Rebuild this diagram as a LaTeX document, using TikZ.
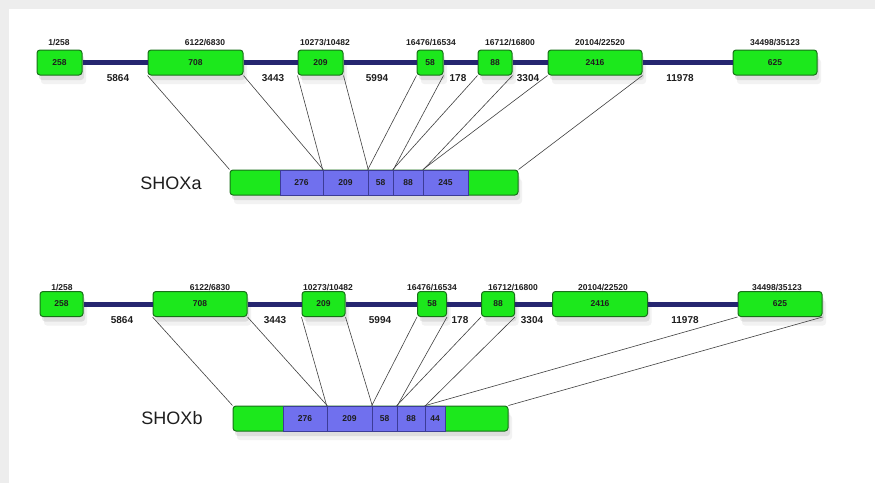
\documentclass[tikz,border=0pt]{standalone}
\usepackage{fontspec}
\setmainfont{Liberation Sans}
\usetikzlibrary{shapes,shadows}
\definecolor{exgreen}{RGB}{28,232,28}
\definecolor{exedge}{RGB}{24,112,24}
\definecolor{cdsblue}{RGB}{112,112,238}
\definecolor{cdsedge}{RGB}{60,60,150}
\definecolor{intronblue}{RGB}{38,38,112}
\definecolor{txtgray}{RGB}{30,30,30}
\tikzstyle{ex}=[rectangle,rounded corners=3pt,draw=exedge,fill=exgreen,line width=1pt,minimum height=25pt,inner sep=0pt,text=txtgray,font=\fontsize{8.5}{9}\selectfont\bfseries,drop shadow={shadow xshift=4pt,shadow yshift=-9pt,opacity=.10},drop shadow={shadow xshift=2pt,shadow yshift=-5pt,opacity=.18}]
\tikzstyle{cds}=[rectangle,draw=cdsedge,fill=cdsblue,line width=.6pt,minimum height=25pt,inner sep=0pt,text=txtgray,font=\fontsize{8.5}{9}\selectfont\bfseries]
\tikzstyle{bb}=[draw=intronblue,line width=5pt]
\tikzstyle{lnk}=[draw=black!75,line width=.6pt]
\tikzstyle{gpos}=[inner sep=0pt,text=txtgray,font=\fontsize{8.5}{9}\selectfont\bfseries]
\tikzstyle{ilen}=[inner sep=0pt,text=txtgray,font=\fontsize{10}{10}\selectfont\bfseries]
\tikzstyle{isolab}=[inner sep=0pt,text=txtgray,font=\fontsize{18}{18}\selectfont]

\begin{document}
\begin{tikzpicture}[x=1pt,y=-1pt]
\useasboundingbox (0,0) rectangle (875,483);
\fill[black!7] (0,0) rectangle (875,483);
\fill[white] (9,9) rectangle (875,483);

\node[ex,minimum width=45pt] (e1) at (59.5,62.5) {258};
\node[ex,minimum width=95pt] (e2) at (195.5,62.5) {708};
\node[ex,minimum width=45pt] (e3) at (320.5,62.5) {209};
\node[ex,minimum width=26pt] (e4) at (430,62.5) {58};
\node[ex,minimum width=34pt] (e5) at (495,62.5) {88};
\node[ex,minimum width=94pt] (e6) at (595,62.5) {2416};
\node[ex,minimum width=84pt] (e7) at (775,62.5) {625};
\foreach \a/\b in {e1/e2,e2/e3,e3/e4,e4/e5,e5/e6,e6/e7} \draw[bb] (\a) -- (\b);
\node[gpos] (p1) at (59,43) {1/258}; \node[gpos] (p2) at (205,43) {6122/6830}; \node[gpos] (p3) at (325,43) {10273/10482}; \node[gpos] (p4) at (431,43) {16476/16534};
\node[gpos] (p5) at (510,43) {16712/16800}; \node[gpos] (p6) at (600,43) {20104/22520}; \node[gpos] (p7) at (775,43) {34498/35123};
\node[ilen] (i1) at (118,78) {5864}; \node[ilen] (i2) at (273,78) {3443}; \node[ilen] (i3) at (377,78) {5994};
\node[ilen] (i4) at (458,78) {178}; \node[ilen] (i5) at (528,78) {3304}; \node[ilen] (i6) at (680,78) {11978};

\node[isolab] (la) at (171,183) {SHOXa};
\node[ex,minimum width=288pt] (ta) at (374,182.5) {};
\node[cds,minimum width=43pt] (ta1) at (301.5,182.5) {276};
\node[cds,minimum width=45pt] (ta2) at (345.5,182.5) {209};
\node[cds,minimum width=25pt] (ta3) at (380.5,182.5) {58};
\node[cds,minimum width=30pt] (ta4) at (408,182.5) {88};
\node[cds,minimum width=45pt] (ta5) at (445.5,182.5) {245};
\draw[lnk] (e2.south west) -- (ta.north west); \draw[lnk] (e2.south east) -- (ta1.north east);
\draw[lnk] (e3.south west) -- (ta2.north west); \draw[lnk] (e3.south east) -- (ta2.north east);
\draw[lnk] (e4.south west) -- (ta3.north west); \draw[lnk] (e4.south east) -- (ta3.north east);
\draw[lnk] (e5.south west) -- (ta4.north west); \draw[lnk] (e5.south east) -- (ta4.north east);
\draw[lnk] (e6.south west) -- (ta5.north west); \draw[lnk] (e6.south east) -- (ta.north east);

\node[ex,minimum width=43pt] (f1) at (61.5,304) {258};
\node[ex,minimum width=94pt] (f2) at (200,304) {708};
\node[ex,minimum width=43pt] (f3) at (323.5,304) {209};
\node[ex,minimum width=29pt] (f4) at (432,304) {58};
\node[ex,minimum width=33pt] (f5) at (498,304) {88};
\node[ex,minimum width=95pt] (f6) at (600,304) {2416};
\node[ex,minimum width=84pt] (f7) at (780,304) {625};
\foreach \a/\b in {f1/f2,f2/f3,f3/f4,f4/f5,f5/f6,f6/f7} \draw[bb] (\a) -- (\b);
\node[gpos] (q1) at (62,287) {1/258}; \node[gpos] (q2) at (210,287) {6122/6830}; \node[gpos] (q3) at (328,287) {10273/10482}; \node[gpos] (q4) at (432,287) {16476/16534};
\node[gpos] (q5) at (513,287) {16712/16800}; \node[gpos] (q6) at (603,287) {20104/22520}; \node[gpos] (q7) at (777,287) {34498/35123};
\node[ilen] (j1) at (122,320) {5864}; \node[ilen] (j2) at (275,320) {3443}; \node[ilen] (j3) at (380,320) {5994};
\node[ilen] (j4) at (460,320) {178}; \node[ilen] (j5) at (532,320) {3304}; \node[ilen] (j6) at (685,320) {11978};

\node[isolab] (lb) at (172,418) {SHOXb};
\node[ex,minimum width=275pt] (tb) at (370.5,418.5) {};
\node[cds,minimum width=44pt] (tb1) at (305,418.5) {276};
\node[cds,minimum width=45pt] (tb2) at (349.5,418.5) {209};
\node[cds,minimum width=25pt] (tb3) at (384.5,418.5) {58};
\node[cds,minimum width=28pt] (tb4) at (411,418.5) {88};
\node[cds,minimum width=20pt] (tb5) at (435,418.5) {44};
\draw[lnk] (f2.south west) -- (tb.north west); \draw[lnk] (f2.south east) -- (tb1.north east);
\draw[lnk] (f3.south west) -- (tb2.north west); \draw[lnk] (f3.south east) -- (tb2.north east);
\draw[lnk] (f4.south west) -- (tb3.north west); \draw[lnk] (f4.south east) -- (tb3.north east);
\draw[lnk] (f5.south west) -- (tb4.north west); \draw[lnk] (f5.south east) -- (tb4.north east);
\draw[lnk] (f7.south west) -- (tb5.north west); \draw[lnk] (f7.south east) -- (tb.north east);
\end{tikzpicture}
\end{document}
